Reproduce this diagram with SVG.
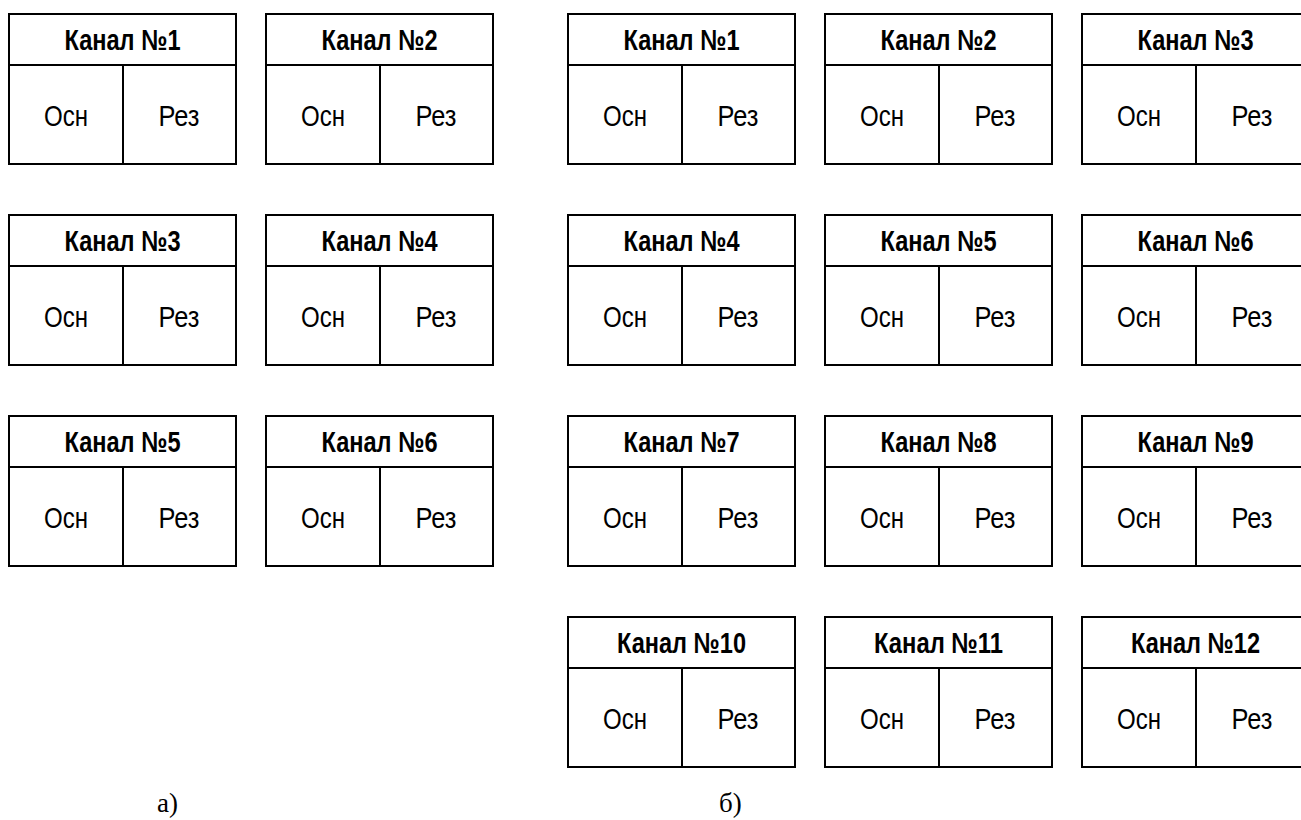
<svg xmlns="http://www.w3.org/2000/svg" width="1301" height="820" viewBox="0 0 1301 820">
  <style>
    .frame { fill: #fff; stroke: #000; stroke-width: 2; }
    .rule { stroke: #000; stroke-width: 2; }
    .title { font-family: "Liberation Sans", Arial, sans-serif; font-weight: bold; font-size: 29px; fill: #000; text-anchor: middle; }
    .cell { font-family: "Liberation Sans", Arial, sans-serif; font-size: 29px; fill: #000; text-anchor: middle; }
    .cap { font-family: "Liberation Serif", "Times New Roman", serif; font-size: 27px; fill: #000; }
  </style>
  <defs>
    <!-- channel block: header row with name, two cells below -->
    <g id="block">
      <rect class="frame" x="0" y="0" width="227" height="150"/>
      <line class="rule" x1="0" y1="51" x2="227" y2="51"/>
      <line class="rule" x1="114" y1="51" x2="114" y2="150"/>
      <text class="cell" x="57" y="112" textLength="44" lengthAdjust="spacingAndGlyphs">Осн</text>
      <text class="cell" x="170" y="112" textLength="41" lengthAdjust="spacingAndGlyphs">Рез</text>
    </g>
  </defs>
  <rect width="1301" height="820" fill="#fff"/>

  <!-- a) six channels -->
  <g id="a-ch1" transform="translate(9,14)"><use href="#block"/><text class="title" x="113.5" y="36" textLength="116" lengthAdjust="spacingAndGlyphs">Канал №1</text></g>
  <g id="a-ch2" transform="translate(266,14)"><use href="#block"/><text class="title" x="113.5" y="36" textLength="116" lengthAdjust="spacingAndGlyphs">Канал №2</text></g>
  <g id="a-ch3" transform="translate(9,215)"><use href="#block"/><text class="title" x="113.5" y="36" textLength="116" lengthAdjust="spacingAndGlyphs">Канал №3</text></g>
  <g id="a-ch4" transform="translate(266,215)"><use href="#block"/><text class="title" x="113.5" y="36" textLength="116" lengthAdjust="spacingAndGlyphs">Канал №4</text></g>
  <g id="a-ch5" transform="translate(9,416)"><use href="#block"/><text class="title" x="113.5" y="36" textLength="116" lengthAdjust="spacingAndGlyphs">Канал №5</text></g>
  <g id="a-ch6" transform="translate(266,416)"><use href="#block"/><text class="title" x="113.5" y="36" textLength="116" lengthAdjust="spacingAndGlyphs">Канал №6</text></g>

  <!-- б) twelve channels -->
  <g id="b-ch1" transform="translate(568,14)"><use href="#block"/><text class="title" x="113.5" y="36" textLength="116" lengthAdjust="spacingAndGlyphs">Канал №1</text></g>
  <g id="b-ch2" transform="translate(825,14)"><use href="#block"/><text class="title" x="113.5" y="36" textLength="116" lengthAdjust="spacingAndGlyphs">Канал №2</text></g>
  <g id="b-ch3" transform="translate(1082,14)"><use href="#block"/><text class="title" x="113.5" y="36" textLength="116" lengthAdjust="spacingAndGlyphs">Канал №3</text></g>
  <g id="b-ch4" transform="translate(568,215)"><use href="#block"/><text class="title" x="113.5" y="36" textLength="116" lengthAdjust="spacingAndGlyphs">Канал №4</text></g>
  <g id="b-ch5" transform="translate(825,215)"><use href="#block"/><text class="title" x="113.5" y="36" textLength="116" lengthAdjust="spacingAndGlyphs">Канал №5</text></g>
  <g id="b-ch6" transform="translate(1082,215)"><use href="#block"/><text class="title" x="113.5" y="36" textLength="116" lengthAdjust="spacingAndGlyphs">Канал №6</text></g>
  <g id="b-ch7" transform="translate(568,416)"><use href="#block"/><text class="title" x="113.5" y="36" textLength="116" lengthAdjust="spacingAndGlyphs">Канал №7</text></g>
  <g id="b-ch8" transform="translate(825,416)"><use href="#block"/><text class="title" x="113.5" y="36" textLength="116" lengthAdjust="spacingAndGlyphs">Канал №8</text></g>
  <g id="b-ch9" transform="translate(1082,416)"><use href="#block"/><text class="title" x="113.5" y="36" textLength="116" lengthAdjust="spacingAndGlyphs">Канал №9</text></g>
  <g id="b-ch10" transform="translate(568,617)"><use href="#block"/><text class="title" x="113.5" y="36" textLength="129" lengthAdjust="spacingAndGlyphs">Канал №10</text></g>
  <g id="b-ch11" transform="translate(825,617)"><use href="#block"/><text class="title" x="113.5" y="36" textLength="129" lengthAdjust="spacingAndGlyphs">Канал №11</text></g>
  <g id="b-ch12" transform="translate(1082,617)"><use href="#block"/><text class="title" x="113.5" y="36" textLength="129" lengthAdjust="spacingAndGlyphs">Канал №12</text></g>

  <!-- no connectors in this figure -->
  <g id="connectors"/>

  <!-- sub-figure captions -->
  <text class="cap" x="157" y="812">а)</text>
  <text class="cap" x="719" y="812">б)</text>
</svg>
